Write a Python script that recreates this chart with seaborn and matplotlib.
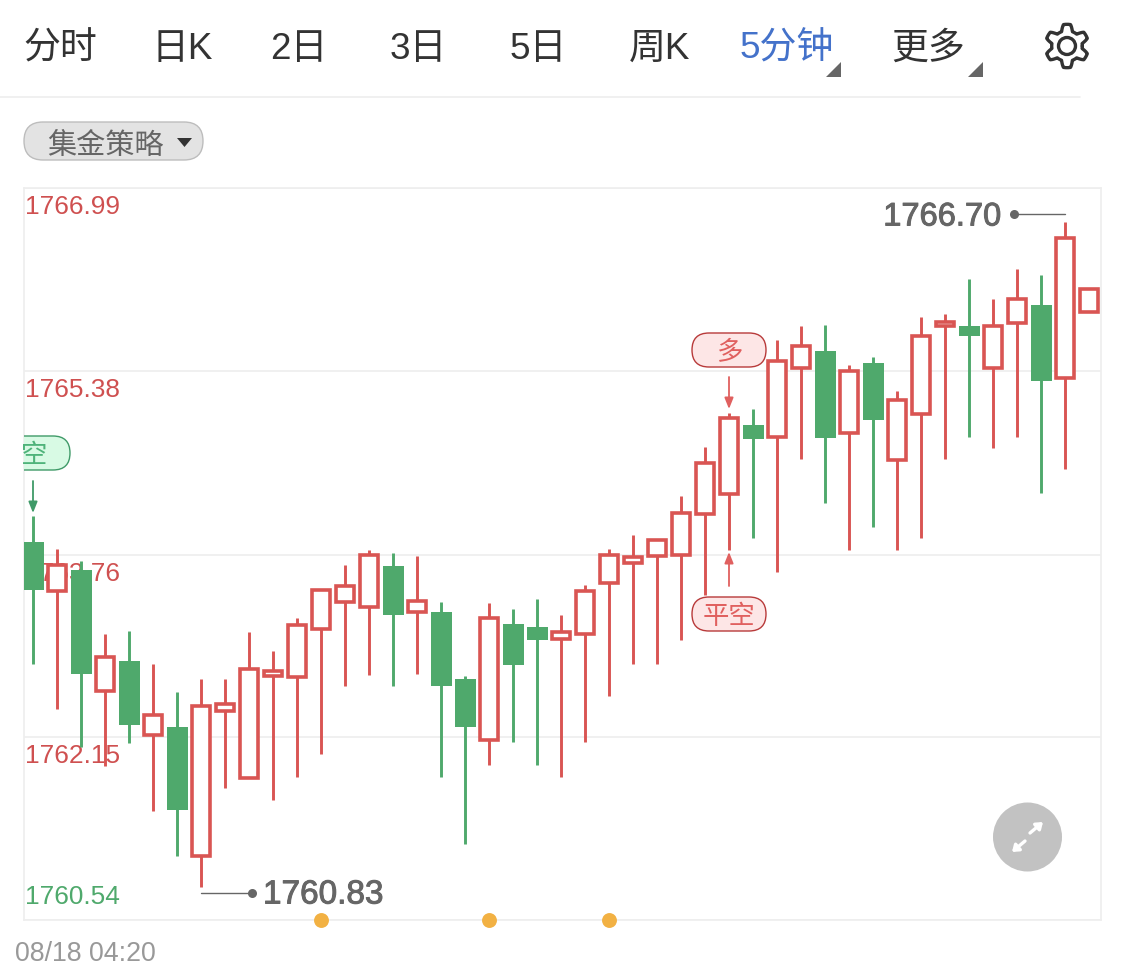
import numpy as np
import pandas as pd
import seaborn as sns
import matplotlib.pyplot as plt
import matplotlib.patheffects as pe
from matplotlib.patches import FancyBboxPatch, Polygon, Circle, Rectangle

# 5 minute candles, left to right (1 = rising, drawn hollow red)
rising = [0, 1, 0, 1, 0, 1, 0, 1, 1, 1, 1, 1, 1, 1, 1,
          0, 1, 0, 0, 1, 0, 0, 1, 1, 1, 1, 1, 1, 1, 1,
          0, 1, 1, 0, 1, 0, 1, 1, 1, 0, 1, 1, 0, 1, 1]
high = [1764.10, 1763.81, 1763.70, 1763.06, 1763.09, 1762.80, 1762.55, 1762.66, 1762.66, 1763.08,
        1762.91, 1763.20, 1763.45, 1763.67, 1763.80, 1763.77, 1763.75, 1763.34, 1762.69, 1763.33,
        1763.28, 1763.37, 1763.23, 1763.49, 1763.81, 1763.93, 1763.89, 1764.28, 1764.71, 1765.01,
        1765.04, 1765.65, 1765.77, 1765.78, 1765.43, 1765.50, 1765.20, 1765.85, 1765.88, 1766.19,
        1766.01, 1766.28, 1766.22, 1766.69, 1766.10]
body_top = [1763.87, 1763.67, 1763.62, 1762.86, 1762.82, 1762.35, 1762.24, 1762.43, 1762.44, 1762.75,
            1762.73, 1763.14, 1763.45, 1763.48, 1763.76, 1763.66, 1763.35, 1763.25, 1762.66, 1763.20,
            1763.15, 1763.12, 1763.08, 1763.44, 1763.76, 1763.74, 1763.89, 1764.13, 1764.57, 1764.96,
            1764.90, 1765.47, 1765.60, 1765.55, 1765.38, 1765.45, 1765.12, 1765.69, 1765.81, 1765.77,
            1765.77, 1766.01, 1765.96, 1766.55, 1766.10]
body_bottom = [1763.45, 1763.44, 1762.71, 1762.56, 1762.26, 1762.17, 1761.51, 1761.10, 1762.38, 1761.79,
               1762.69, 1762.68, 1763.10, 1763.34, 1763.30, 1763.23, 1763.25, 1762.60, 1762.24, 1762.13,
               1762.79, 1763.01, 1763.02, 1763.06, 1763.51, 1763.69, 1763.75, 1763.76, 1764.12, 1764.29,
               1764.78, 1764.80, 1765.40, 1764.79, 1764.83, 1764.95, 1764.59, 1765.00, 1765.77, 1765.69,
               1765.40, 1765.80, 1765.29, 1765.32, 1765.90]
low = [1762.80, 1762.40, 1762.06, 1761.90, 1762.10, 1761.50, 1761.10, 1760.83, 1761.70, 1761.79,
       1761.60, 1761.80, 1762.00, 1762.60, 1762.70, 1762.60, 1762.71, 1761.80, 1761.21, 1761.91,
       1762.11, 1761.91, 1761.80, 1762.11, 1762.51, 1762.80, 1762.80, 1763.01, 1763.40, 1763.80,
       1763.91, 1763.61, 1764.60, 1764.21, 1763.80, 1764.00, 1763.80, 1763.91, 1764.60, 1764.80,
       1764.70, 1764.80, 1764.30, 1764.51, 1765.90]

price_levels = [1766.99, 1765.38, 1763.76, 1762.15, 1760.54]
level_labels = ['1766.99', '1765.38', '1763.76', '1762.15', '1760.54']
level_offset = [-19, -19, -19, -19, 23]
signal_candles = [12, 19, 24]
tabs = ['分时', '日K', '2日', '3日', '5日', '周K', '5分钟', '更多']
tab_x = [60, 182, 299, 418, 538, 660, 787, 928]

RED = '#d95553'
GREEN = '#4fa96c'
LABEL_RED = '#cf5050'
LINE = '#eeeeee'

sns.set_theme(style='white')
plt.rcParams['font.family'] = ['Liberation Sans', 'Noto Sans CJK SC', 'DejaVu Sans']

W, H = 1125, 967
fig = plt.figure(figsize=(W / 100, H / 100), dpi=100, facecolor='white')
ax = fig.add_axes([24 / W, 1 - 920 / H, (1101 - 24) / W, (920 - 188) / H])

df = pd.DataFrame({'candle': range(len(high)), 'rising': rising, 'high': high, 'low': low,
                   'top': body_top, 'bottom': body_bottom})
df['height'] = df['top'] - df['bottom']
wicks = pd.concat([df[['candle', 'rising', 'high']].rename(columns={'high': 'price'}),
                   df[['candle', 'rising', 'low']].rename(columns={'low': 'price'})])

# wicks
for flag, col in [(1, RED), (0, GREEN)]:
    sns.lineplot(data=wicks[wicks['rising'] == flag], x='candle', y='price', units='candle',
                 estimator=None, color=col, linewidth=2.1, solid_capstyle='butt', zorder=3, ax=ax)

# bodies
up = df[df['rising'] == 1]
down = df[df['rising'] == 0]
sns.barplot(data=up, x='candle', y='height', bottom=up['bottom'].values, native_scale=True,
            errorbar=None, width=0.75, color='white', saturation=1, edgecolor=RED, linewidth=2.6,
            zorder=4, ax=ax)
sns.barplot(data=down, x='candle', y='height', bottom=down['bottom'].values, native_scale=True,
            errorbar=None, width=0.875, color=GREEN, saturation=1, linewidth=0, zorder=4, ax=ax)

# signal dots on the bottom line
sns.scatterplot(x=signal_candles, y=[price_levels[-1]] * len(signal_candles), s=115, color='#f2b143',
                linewidth=0, clip_on=False, zorder=6, ax=ax)

ax.set_xlim(-0.375, 44.5)
ax.set_ylim(price_levels[-1], price_levels[0])
ax.set_xticks([])
ax.set_yticks(price_levels)
ax.set_yticklabels([])
ax.tick_params(length=0)
ax.set_xlabel('')
ax.set_ylabel('')
ax.grid(axis='y', color=LINE, linewidth=1.2, zorder=0)
ax.set_axisbelow(True)
for s in ax.spines.values():
    s.set_color(LINE)
    s.set_linewidth(1.2)

for p, lab, off in zip(price_levels, level_labels, level_offset):
    ax.annotate(lab, xy=(0, p), xycoords=('axes fraction', 'data'), xytext=(1, off * 0.72),
                textcoords='offset points', ha='left', va='center', fontsize=18.9, zorder=1,
                color=GREEN if p == price_levels[-1] else LABEL_RED)

# everything else sits on a pixel-sized overlay
ov = fig.add_axes([0, 0, 1, 1], zorder=5)
ov.set_xlim(0, W)
ov.set_ylim(H, 0)
ov.axis('off')
ov.patch.set_alpha(0)

for t, x in zip(tabs, tab_x):
    ov.text(x, 49, t, ha='center', va='center', fontsize=26.6,
            color='#4472ca' if t == '5分钟' else '#333333')
for x in [826, 968]:
    ov.add_patch(Polygon([(x, 77), (x + 15, 77), (x + 15, 62)], color='#666666', lw=0))
ov.plot([0, 1080], [97, 97], color=LINE, lw=1.2)

# gear
ang = np.linspace(0, 2 * np.pi, 361)
rad = 18.5 + 3.2 * np.clip(1.8 * np.cos(6 * (ang - np.pi / 2)), -1, 1)
ov.plot(1067 + rad * np.cos(ang), 46 + rad * np.sin(ang), color='#333333', lw=2.4)
ov.add_patch(Circle((1067, 46), 8.5, fill=False, ec='#333333', lw=2.4))

# strategy dropdown
ov.add_patch(FancyBboxPatch((24 + 19, 122 + 19), 179 - 38, 0, boxstyle='round,pad=19,rounding_size=19',
                            fc='#e3e3e3', ec='#bdbdbd', lw=1))
ov.text(105, 146, '集金策略', ha='center', va='center', fontsize=21, color='#666666')
ov.add_patch(Polygon([(177, 138), (192, 138), (184.5, 147)], color='#333333', lw=0))


def pill(x0, x1, y0, y1, text, fc, ec, tc, arrow):
    r = (y1 - y0) / 2
    box = FancyBboxPatch((x0 + r, y0 + r), x1 - x0 - 2 * r, 0, boxstyle='round,pad=%f,rounding_size=%f' % (r, r),
                         fc=fc, ec=ec, lw=1)
    ov.add_patch(box)
    cx = arrow[0]
    lab = ov.text(cx if x0 > 0 else 34, (y0 + y1) / 2 + 3, text, ha='center', va='center', fontsize=19, color=tc)
    clip = Rectangle((24, 0), W, H, transform=ov.transData)
    box.set_clip_path(clip)
    lab.set_clip_path(clip)
    ov.annotate('', xy=(cx, arrow[2]), xytext=(cx, arrow[1]),
                arrowprops=dict(arrowstyle='-|>,head_length=0.55,head_width=0.22', color=ec if x0 < 0 else tc,
                                lw=1.3, shrinkA=0, shrinkB=0))


pill(692, 766, 333, 367, '多', '#fde6e6', '#b83a3a', '#e0605f', (729, 377, 409))
pill(692, 766, 597, 631, '平空', '#fde6e6', '#b83a3a', '#e0605f', (729, 586, 552))
pill(-4, 70, 436, 470, '空', '#d8fae4', '#3f9a68', '#4fb37a', (33, 481, 513))

# high / low callouts
bold = [pe.withStroke(linewidth=0.7, foreground='#666666')]
ov.plot([1065, 1014], [214, 214], color='#666666', lw=1)
ov.plot([1014], [214], 'o', color='#666666', ms=6.5, mew=0)
ov.text(1001, 217, '1766.70', ha='right', va='center', fontsize=23.5, color='#666666', path_effects=bold)
ov.plot([201, 252], [893, 893], color='#666666', lw=1)
ov.plot([252], [893], 'o', color='#666666', ms=6.5, mew=0)
ov.text(263, 895, '1760.83', ha='left', va='center', fontsize=24, color='#666666', path_effects=bold)

ov.text(15, 954, '08/18 04:20', ha='left', va='center', fontsize=19.3, color='#999999')

# expand button
ov.add_patch(Circle((1027.5, 837), 34.5, color='#c2c2c2', lw=0))
for tail, tip in [((1025, 841), (1012, 852)), ((1030, 833), (1043, 822))]:
    ov.annotate('', xy=tip, xytext=tail,
                arrowprops=dict(arrowstyle='-|>,head_length=0.3,head_width=0.22', color='white', lw=2.4,
                                shrinkA=0, shrinkB=0))

fig.savefig('out.png', dpi=100)
